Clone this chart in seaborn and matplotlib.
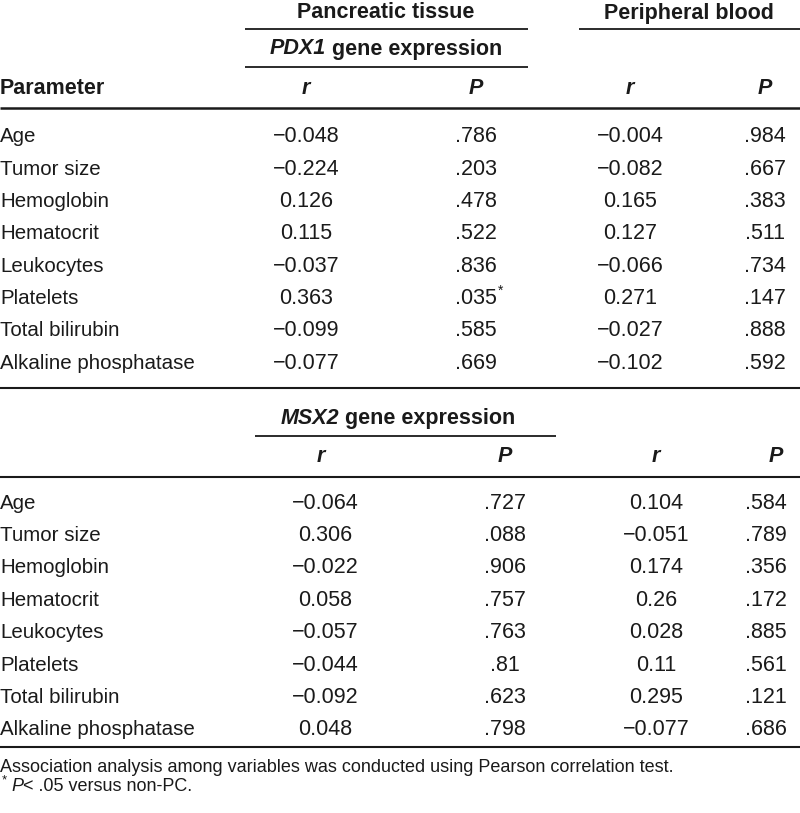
import matplotlib
matplotlib.use("Agg")
import matplotlib.pyplot as plt
import seaborn as sns

# Table content
params = ["Age", "Tumor size", "Hemoglobin", "Hematocrit", "Leukocytes",
          "Platelets", "Total bilirubin", "Alkaline phosphatase"]

pdx1_tissue_r = ["\u22120.048", "\u22120.224", "0.126", "0.115", "\u22120.037",
                 "0.363", "\u22120.099", "\u22120.077"]
pdx1_tissue_p = [".786", ".203", ".478", ".522", ".836", ".035", ".585", ".669"]
pdx1_blood_r = ["\u22120.004", "\u22120.082", "0.165", "0.127", "\u22120.066",
                "0.271", "\u22120.027", "\u22120.102"]
pdx1_blood_p = [".984", ".667", ".383", ".511", ".734", ".147", ".888", ".592"]
pdx1_flags = ["", "", "", "", "", "*", "", ""]

msx2_tissue_r = ["\u22120.064", "0.306", "\u22120.022", "0.058", "\u22120.057",
                 "\u22120.044", "\u22120.092", "0.048"]
msx2_tissue_p = [".727", ".088", ".906", ".757", ".763", ".81", ".623", ".798"]
msx2_blood_r = ["0.104", "\u22120.051", "0.174", "0.26", "0.028", "0.11",
                "0.295", "\u22120.077"]
msx2_blood_p = [".584", ".789", ".356", ".172", ".885", ".561", ".121", ".686"]

footnote = "Association analysis among variables was conducted using Pearson correlation test."

sns.set_theme(style="white")
plt.rcParams["font.family"] = ["Liberation Sans Narrow", "Liberation Sans", "DejaVu Sans"]

W, H = 800, 813
fig = plt.figure(figsize=(W / 100, H / 100), dpi=100)
ax = fig.add_axes([0, 0, 1, 1])
ax.set_xlim(0, W)
ax.set_ylim(H, 0)
ax.axis("off")
renderer = fig.canvas.get_renderer()

FS = 15.5
LABEL_FS = 14.8
INK = "#1a1a1a"


def txt(x, y, s, ha="center", **kw):
    return ax.text(x, y, s, ha=ha, va="center", fontsize=kw.pop("fontsize", FS),
                   color=INK, **kw)


def hline(y, x0, x1, lw=1.3):
    ax.plot([x0, x1], [y, y], color=INK, lw=lw, solid_capstyle="butt")


def gene_title(xc, y, gene):
    # italic gene symbol followed by plain bold words, centred as a whole
    a = txt(0, y, gene, ha="left", fontweight="bold", fontstyle="italic")
    b = txt(0, y, " gene expression", ha="left", fontweight="bold")
    wa = a.get_window_extent(renderer).width
    wb = b.get_window_extent(renderer).width
    left = xc - (wa + wb) / 2
    a.set_x(left)
    b.set_x(left + wa)


# header of the first block
txt(386, 13, "Pancreatic tissue", fontweight="bold")
txt(689, 13, "Peripheral blood", fontweight="bold")
hline(29.5, 245, 528)
hline(29.5, 579, 800)
gene_title(386, 49, "PDX1")
hline(67.5, 245, 528)
txt(0, 88, "Parameter", ha="left", fontweight="bold")
top_cols = [306, 476, 630, 765]
for x, lab in zip(top_cols, ["r", "P", "r", "P"]):
    txt(x, 88, lab, fontweight="bold", fontstyle="italic")
hline(108.5, 0, 800, lw=1.8)

# rows of the first block
y0, dy = 137, 32.3
for i, name in enumerate(params):
    y = y0 + i * dy
    txt(0, y, name, ha="left", fontsize=LABEL_FS)
    txt(top_cols[0], y, pdx1_tissue_r[i])
    txt(top_cols[1], y, pdx1_tissue_p[i])
    if pdx1_flags[i]:
        txt(top_cols[1] + 25, y - 8, pdx1_flags[i], fontsize=10)
    txt(top_cols[2], y, pdx1_blood_r[i])
    txt(top_cols[3], y, pdx1_blood_p[i])
hline(387.5, 0, 800, lw=1.5)

# header of the second block
gene_title(398, 418, "MSX2")
hline(435.5, 255, 556)
bot_cols = [325, 505, 656, 766]
for x, lab in zip([321, 505, 656, 776], ["r", "P", "r", "P"]):
    txt(x, 456, lab, fontweight="bold", fontstyle="italic")
hline(477, 0, 800, lw=1.5)

y0b = 503
for i, name in enumerate(params):
    y = y0b + i * 32.4
    txt(0, y, name, ha="left", fontsize=LABEL_FS)
    txt(bot_cols[0], y, msx2_tissue_r[i])
    txt(bot_cols[1], y, msx2_tissue_p[i])
    txt(bot_cols[2], y, msx2_blood_r[i])
    txt(bot_cols[3], y, msx2_blood_p[i])
hline(747, 0, 800, lw=1.5)

# footnotes
txt(0, 767, footnote, ha="left", fontsize=13)
txt(2, 780, "*", ha="left", fontsize=9.5)
p = txt(11, 786, "P", ha="left", fontsize=13, fontstyle="italic")
wp = p.get_window_extent(renderer).width
txt(11 + wp, 786, "< .05 versus non-PC.", ha="left", fontsize=13)

fig.savefig("out.png", dpi=100)
